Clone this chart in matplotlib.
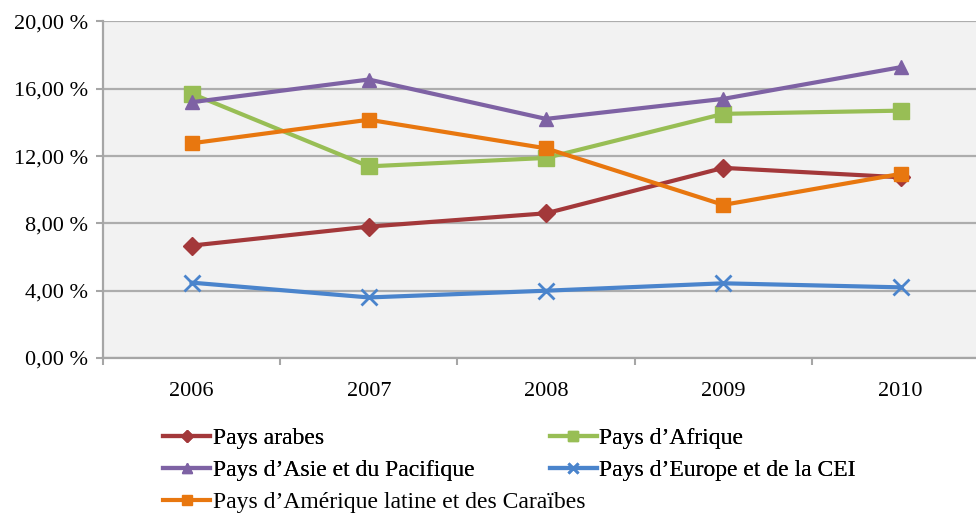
import matplotlib.pyplot as plt
import numpy as np
from matplotlib.ticker import FixedLocator, FuncFormatter

years = ["2006", "2007", "2008", "2009", "2010"]
pays_arabes = [6.68, 7.81, 8.60, 11.30, 10.74]
pays_afrique = [15.71, 11.39, 11.89, 14.51, 14.70]
pays_asie = [15.20, 16.55, 14.21, 15.40, 17.28]
pays_europe = [4.48, 3.60, 4.00, 4.44, 4.20]
pays_amerique = [12.76, 14.16, 12.46, 9.10, 10.94]

series = [
    ("Pays arabes", pays_arabes, "#A3383A", "D", 9),
    ("Pays d’Asie et du Pacifique", pays_asie, "#7E62A4", "^", 10),
    ("Pays d’Amérique latine et des Caraïbes", pays_amerique, "#E8770F", "s", 10),
    ("Pays d’Afrique", pays_afrique, "#98BE55", "s", 11),
    ("Pays d’Europe et de la CEI", pays_europe, "#4A84CC", "x", 11),
]
# drawing order (back to front) as in the source chart
draw_order = [0, 3, 1, 4, 2]

plt.rcParams["font.family"] = ["Liberation Serif", "DejaVu Serif"]

fig = plt.figure(figsize=(9.76, 5.17), dpi=100)
ax = fig.add_axes([0.1055, 0.3075, 0.908, 0.651])
ax.set_facecolor("#F2F2F2")

x = np.arange(len(years))
lines = {}
for i in draw_order:
    label, vals, color, marker, ms = series[i]
    (ln,) = ax.plot(x, vals, color=color, lw=3, marker=marker, markersize=ms,
                    markeredgewidth=2 if marker == "x" else 1,
                    markeredgecolor=color, label=label, zorder=3, solid_joinstyle="miter")
    lines[i] = ln

ax.set_xlim(-0.5, len(years) - 0.5)
ax.set_ylim(0, 20)
ax.set_yticks(np.arange(0, 21, 4))
ax.yaxis.set_major_formatter(FuncFormatter(lambda v, p: f"{v:.2f}".replace(".", ",") + " %"))
ax.yaxis.grid(True, color="#ADADAD", lw=1.6)
ax.set_axisbelow(True)

ax.xaxis.set_major_locator(FixedLocator(np.arange(-0.5, len(years), 1.0)))
ax.xaxis.set_minor_locator(FixedLocator(x))
ax.set_xticklabels([])
ax.set_xticklabels(years, minor=True)
ax.tick_params(axis="x", which="major", length=5, width=1.5, color="#A6A6A6")
ax.tick_params(axis="x", which="minor", length=0, pad=17, labelsize=16)
ax.tick_params(axis="y", length=5, width=1.5, color="#A6A6A6", pad=6, labelsize=16)

for side in ["top", "right"]:
    ax.spines[side].set_visible(False)
for side in ["left", "bottom"]:
    ax.spines[side].set_color("#A6A6A6")
    ax.spines[side].set_linewidth(1.6)

# legend: two rows of two entries, then the last entry alone on a third row
leg_kw = dict(loc="upper left", frameon=False, fontsize=17, handlelength=2.0,
              handletextpad=0.1, labelspacing=0.45, borderpad=0,
              borderaxespad=0, markerscale=0.7)
top = [0, 1, 3, 4]
leg1 = fig.legend(handles=[lines[i] for i in top], labels=[series[i][0] for i in top],
                  ncol=2, columnspacing=3.2, bbox_to_anchor=(0.167, 0.173), **leg_kw)
fig.legend(handles=[lines[2]], labels=[series[2][0]],
           bbox_to_anchor=(0.167, 0.049), **leg_kw)
fig.add_artist(leg1)

fig.savefig("out.png", dpi=100)
